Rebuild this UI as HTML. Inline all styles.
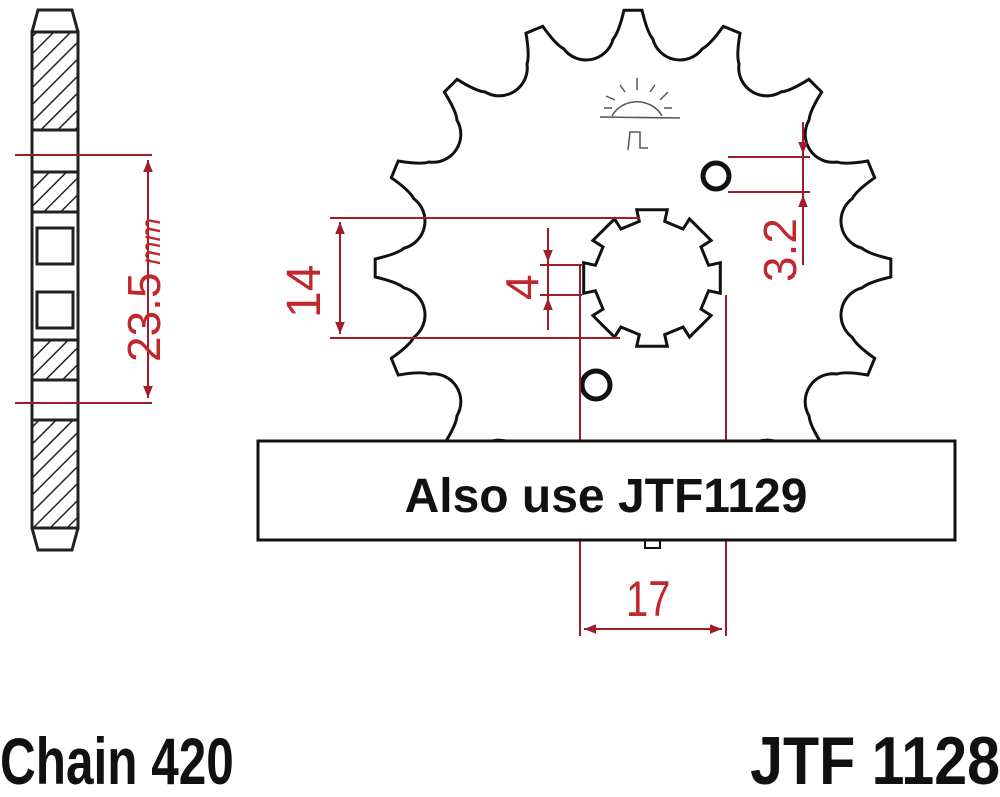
<!DOCTYPE html>
<html><head><meta charset="utf-8"><style>
html,body{margin:0;padding:0;background:#fff;width:1000px;height:797px;overflow:hidden}
svg{display:block}
.r{fill:#c0282e;font-family:"Liberation Sans",sans-serif}
.b{font-family:"Liberation Sans",sans-serif;font-weight:bold;fill:#111}
</style></head><body>
<svg id="s" width="1000" height="797" viewBox="0 0 1000 797" xmlns="http://www.w3.org/2000/svg">
<defs>
<pattern id="h" width="12" height="12" patternUnits="userSpaceOnUse" patternTransform="rotate(45)">
<line x1="0" y1="0" x2="0" y2="12" stroke="#222" stroke-width="3"/></pattern>
<marker id="a" viewBox="0 0 10 10" refX="10" refY="5" markerWidth="6" markerHeight="6" orient="auto-start-reverse"><path d="M0,1 L10,5 L0,9z" fill="#a01c28"/></marker>
</defs>
<g stroke="#222" stroke-width="3" fill="none">
<path d="M38,10 L72,10 L78,32 L78,528 L72,550 L38,550 L32,528 L32,32 Z" fill="#fff"/>
<rect x="32" y="32" width="46" height="98" fill="url(#h)"/>
<rect x="32" y="172" width="46" height="40" fill="url(#h)"/>
<rect x="32" y="340" width="46" height="40" fill="url(#h)"/>
<rect x="32" y="420" width="46" height="108" fill="url(#h)"/>
<line x1="32" y1="130" x2="78" y2="130"/><line x1="32" y1="172" x2="78" y2="172"/>
<line x1="32" y1="212" x2="78" y2="212"/><line x1="32" y1="340" x2="78" y2="340"/>
<line x1="32" y1="380" x2="78" y2="380"/><line x1="32" y1="420" x2="78" y2="420"/>
<rect x="37" y="228" width="36" height="36"/><rect x="37" y="292" width="36" height="36"/>
<line x1="32" y1="528" x2="78" y2="528"/><line x1="32" y1="32" x2="78" y2="32"/>
</g>
<g stroke="#a01c28" stroke-width="2" fill="none">
<line x1="15" y1="155" x2="152" y2="155"/><line x1="15" y1="403" x2="152" y2="403"/>
<line x1="148" y1="160" x2="148" y2="398" marker-start="url(#a)" marker-end="url(#a)"/>
</g>
<text class="r" font-size="46" transform="translate(160,362) rotate(-90)">23.5<tspan font-size="28" font-style="italic"> mm</tspan></text>
<path id="gear" fill="#fff" stroke="#111" stroke-width="3"/>
<path id="spl" fill="#fff" stroke="#111" stroke-width="3"/>
<circle cx="716" cy="176" r="13" fill="none" stroke="#111" stroke-width="5"/>
<circle cx="596" cy="385" r="14" fill="none" stroke="#111" stroke-width="5"/>
<g stroke="#555" stroke-width="1.5" fill="none">
<line x1="600" y1="117" x2="680" y2="118"/>
<path d="M612,116 A28,26 0 0 1 662,116"/>
<line x1="637" y1="90" x2="637" y2="78"/><line x1="625" y1="92" x2="620" y2="85"/><line x1="650" y1="92" x2="655" y2="85"/>
<line x1="615" y1="100" x2="606" y2="96"/><line x1="660" y1="100" x2="668" y2="92"/><line x1="612" y1="108" x2="604" y2="108"/><line x1="664" y1="108" x2="672" y2="108"/>
<path d="M628,150 L630,132 L640,132 L640,148 L648,148"/>
</g>
<g stroke="#a01c28" stroke-width="2" fill="none">
<line x1="330" y1="218" x2="640" y2="218"/><line x1="330" y1="338" x2="620" y2="338"/>
<line x1="340" y1="222" x2="340" y2="334" marker-start="url(#a)" marker-end="url(#a)"/>
<line x1="540" y1="265" x2="582" y2="265"/><line x1="540" y1="295" x2="582" y2="295"/>
<line x1="548" y1="228" x2="548" y2="262" marker-end="url(#a)"/>
<line x1="548" y1="330" x2="548" y2="298" marker-end="url(#a)"/>
<line x1="548" y1="262" x2="548" y2="298"/>
<line x1="728" y1="157" x2="810" y2="157"/><line x1="728" y1="192" x2="810" y2="192"/>
<line x1="803" y1="122" x2="803" y2="154" marker-end="url(#a)"/>
<line x1="803" y1="265" x2="803" y2="195" marker-end="url(#a)"/>
<line x1="803" y1="154" x2="803" y2="195"/>
<line x1="580" y1="265" x2="580" y2="636"/><line x1="726" y1="295" x2="726" y2="636"/>
<line x1="584" y1="629" x2="722" y2="629" marker-start="url(#a)" marker-end="url(#a)"/>
</g>
<text class="r" font-size="48" transform="translate(320,318) rotate(-90)">14</text>
<text class="r" font-size="46" transform="translate(538,300) rotate(-90)">4</text>
<text class="r" font-size="46" transform="translate(796,282) rotate(-90)">3.2</text>
<text class="r" font-size="50" x="626" y="616" transform="translate(626,0) scale(0.8,1) translate(-626,0)">17</text>
<rect x="258" y="441" width="697" height="99" fill="#fff" stroke="#111" stroke-width="3"/>
<path d="M645,540 L645,548 L660,548 L660,540" fill="none" stroke="#111" stroke-width="2"/>
<text class="b" font-size="48" x="606" y="512" text-anchor="middle">Also use JTF1129</text>
<text class="b" font-size="66" x="0" y="784" transform="scale(0.75,1)">Chain 420</text>
<text class="b" font-size="68" x="1000" y="784" text-anchor="end" transform="translate(1000,0) scale(0.87,1) translate(-1000,0)">JTF 1128</text>
</svg>
<script>
(function(){
var cx=633,cy=268,Ro=258,n=16,s=2*Math.PI/n,d="";
function P(a,r){return (cx+r*Math.cos(a)).toFixed(1)+","+(cy+r*Math.sin(a)).toFixed(1);}
for(var i=0;i<n;i++){
 var a0=-Math.PI/2+i*s, v=a0+s/2;
 if(i==0)d+="M"+P(a0-0.035,Ro);
 d+=" L"+P(a0+0.035,Ro);
 d+=" Q"+P(a0+0.06,Ro-22)+" "+P(v-0.11,230);
 d+=" A28,28 0 0 0 "+P(v+0.11,230);
 d+=" Q"+P(a0+s-0.06,Ro-22)+" "+P(a0+s-0.035,Ro);
}
document.getElementById("gear").setAttribute("d",d+"Z");
var sx=652,sy=278,r1=70,r2=58,m=8,e="";
for(var j=0;j<m;j++){
 var b=j*2*Math.PI/m, w=0.22;
 [[b-w,r2],[b-w,r1],[b+w,r1],[b+w,r2]].forEach(function(p,k){
 e+=(j==0&&k==0?"M":" L")+(sx+p[1]*Math.cos(p[0])).toFixed(1)+","+(sy+p[1]*Math.sin(p[0])).toFixed(1);});
}
document.getElementById("spl").setAttribute("d",e+"Z");
})();
</script>
</body></html>
